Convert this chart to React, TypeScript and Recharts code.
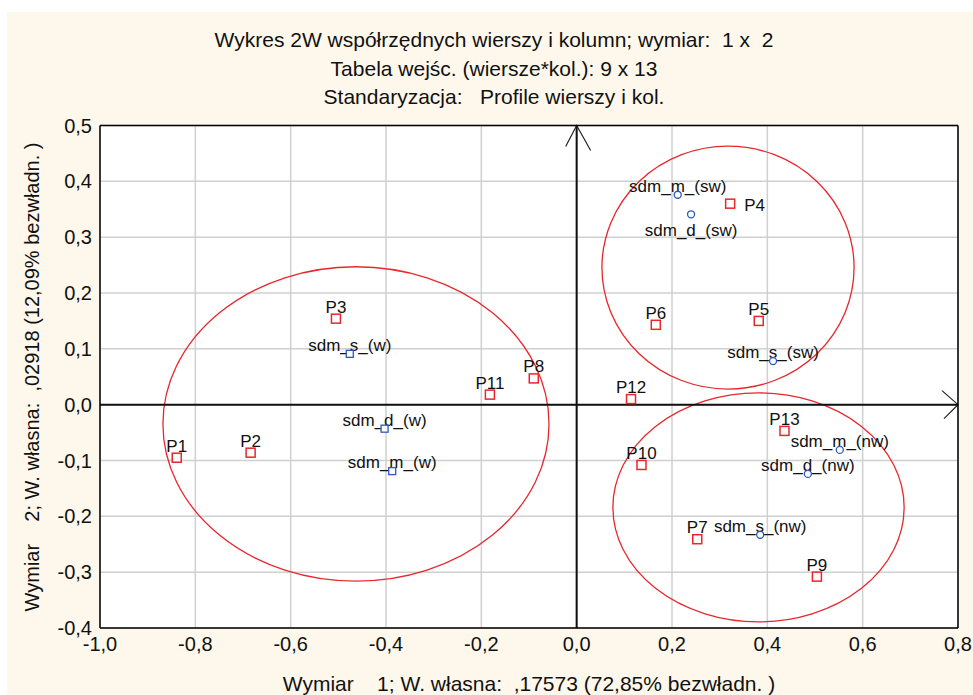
import { ScatterChart, Scatter, XAxis, YAxis, CartesianGrid, ReferenceLine, ReferenceArea } from "recharts";

// row points (P1..P13): dimension 1 and dimension 2 coordinates
const rowNames = ["P1", "P2", "P3", "P4", "P5", "P6", "P7", "P8", "P9", "P10", "P11", "P12", "P13"];
const rowDim1 = [-0.839, -0.684, -0.505, 0.322, 0.382, 0.166, 0.253, -0.09, 0.504, 0.136, -0.182, 0.114, 0.436];
const rowDim2 = [-0.095, -0.086, 0.154, 0.36, 0.15, 0.143, -0.241, 0.047, -0.308, -0.108, 0.018, 0.01, -0.047];

// column points
const colNames = [
  "sdm_s_(w)", "sdm_d_(w)", "sdm_m_(w)",
  "sdm_m_(sw)", "sdm_d_(sw)", "sdm_s_(sw)",
  "sdm_m_(nw)", "sdm_d_(nw)", "sdm_s_(nw)",
];
const colDim1 = [-0.476, -0.403, -0.387, 0.212, 0.24, 0.412, 0.552, 0.485, 0.385];
const colDim2 = [0.091, -0.043, -0.119, 0.376, 0.341, 0.078, -0.081, -0.124, -0.233];

// group ellipses, bounding boxes in data units
const groupDim1Min = [-0.868, 0.053, 0.076];
const groupDim1Max = [-0.058, 0.582, 0.687];
const groupDim2Min = [-0.316, 0.028, -0.389];
const groupDim2Max = [0.247, 0.463, 0.021];

const xTicks = [-1, -0.8, -0.6, -0.4, -0.2, 0, 0.2, 0.4, 0.6, 0.8];
const yTicks = [-0.4, -0.3, -0.2, -0.1, 0, 0.1, 0.2, 0.3, 0.4, 0.5];
const xMinorTicks = [-0.9, -0.7, -0.5, -0.3, -0.1, 0.1, 0.3, 0.5, 0.7];
const yMinorTicks = [
  -0.375, -0.35, -0.325, -0.275, -0.25, -0.225, -0.175, -0.15, -0.125,
  -0.075, -0.05, -0.025, 0.025, 0.05, 0.075, 0.125, 0.15, 0.175,
  0.225, 0.25, 0.275, 0.325, 0.35, 0.375, 0.425, 0.45, 0.475,
];

const titleLines = [
  "Wykres 2W współrzędnych wierszy i kolumn; wymiar:  1 x  2",
  "Tabela wejśc. (wiersze*kol.): 9 x 13",
  "Standaryzacja:   Profile wierszy i kol.",
];
const xLabel = "Wymiar    1; W. własna:  ,17573 (72,85% bezwładn. )";
const yLabel = "Wymiar    2; W. własna:  ,02918 (12,09% bezwładn. )";

// labels that sit beside or under their point instead of above it
const labelSide: Record<string, "right" | "below"> = {
  P4: "right",
  "sdm_d_(sw)": "below",
};

const rows = rowNames.map((name, i) => ({ name, x: rowDim1[i], y: rowDim2[i] }));
const cols = colNames.map((name, i) => ({ name, x: colDim1[i], y: colDim2[i] }));

const FONT = '"Liberation Sans", Arial, sans-serif';
const RED = "#e8262c";
const BLUE = "#2a58c0";
const DOMAIN_X: [number, number] = [-1, 0.8];
const DOMAIN_Y: [number, number] = [-0.4, 0.5];

const fmt = (v: number) => v.toFixed(1).replace(".", ",");

const PointLabel = ({ cx, cy, name, above }: { cx: number; cy: number; name: string; above: number }) => {
  const side = labelSide[name];
  let x = cx;
  let y = cy - above;
  let anchor: "middle" | "start" = "middle";
  if (side === "right") {
    x = cx + 14;
    y = cy + 7;
    anchor = "start";
  } else if (side === "below") {
    y = cy + 22;
  }
  return (
    <text x={x} y={y} textAnchor={anchor} fontSize={17} fontFamily={FONT} fill="#111">
      {name}
    </text>
  );
};

const RowMarker = (p: any) => (
  <g>
    <rect x={p.cx - 4.5} y={p.cy - 4.5} width={9} height={9} fill="#fff" stroke={RED} strokeWidth={1.5} />
    <PointLabel cx={p.cx} cy={p.cy} name={p.payload.name} above={6} />
  </g>
);

const ColMarker = (p: any) => {
  const square = p.payload.name.endsWith("(w)");
  return (
    <g>
      <PointLabel cx={p.cx} cy={p.cy} name={p.payload.name} above={3} />
      {square ? (
        <rect x={p.cx - 3.5} y={p.cy - 3.5} width={7} height={7} fill="#fff" stroke={BLUE} strokeWidth={1.3} />
      ) : (
        <circle cx={p.cx} cy={p.cy} r={3.5} fill="#fff" stroke={BLUE} strokeWidth={1.3} />
      )}
    </g>
  );
};

const EllipseShape = (p: any) => {
  const w = Math.abs(p.width);
  const h = Math.abs(p.height);
  return (
    <ellipse cx={p.x + w / 2} cy={p.y + h / 2} rx={w / 2} ry={h / 2} fill="none" stroke={RED} strokeWidth={1.3} />
  );
};

const VerticalArrow = (p: any) => {
  const x = p.x1;
  const top = Math.min(p.y1, p.y2);
  const bottom = Math.max(p.y1, p.y2);
  return (
    <g>
      <line x1={x} y1={top} x2={x} y2={bottom} stroke="#111" strokeWidth={2} />
      <polyline points={`${x - 11},${top + 21} ${x},${top} ${x + 14},${top + 25}`} fill="none" stroke="#222" strokeWidth={1.2} />
    </g>
  );
};

const HorizontalArrow = (p: any) => {
  const y = p.y1;
  const left = Math.min(p.x1, p.x2);
  const right = Math.max(p.x1, p.x2);
  return (
    <g>
      <line x1={left} y1={y} x2={right} y2={y} stroke="#111" strokeWidth={2} />
      <polyline points={`${right - 16},${y - 14} ${right},${y} ${right - 14},${y + 14}`} fill="none" stroke="#222" strokeWidth={1.2} />
    </g>
  );
};

const tickStyle = { fill: "#111", fontSize: 20, fontFamily: FONT };

export default function App() {
  return (
    <div style={{ position: "absolute", left: 0, top: 0, width: 973, height: 695, background: "#fff", overflow: "hidden" }}>
      <div style={{ position: "absolute", left: 7, top: 12, right: 0, bottom: 0, background: "#fdf8eb" }} />
      <ScatterChart
        width={973}
        height={695}
        margin={{ top: 125.5, right: 15, bottom: 37, left: 40 }}
        style={{ position: "absolute", left: 0, top: 0 }}
      >
        <CartesianGrid fill="#fff" stroke="#d0d0d0" strokeWidth={1.5} />
        <XAxis
          type="number"
          dataKey="x"
          domain={DOMAIN_X}
          ticks={xTicks}
          interval={0}
          tickFormatter={fmt}
          tick={tickStyle}
          tickLine={false}
          tickSize={0}
          tickMargin={9}
          height={30}
          axisLine={{ stroke: "#000", strokeWidth: 1.5 }}
        />
        <YAxis
          type="number"
          dataKey="y"
          domain={DOMAIN_Y}
          ticks={yTicks}
          interval={0}
          tickFormatter={fmt}
          tick={tickStyle}
          tickLine={false}
          tickSize={0}
          tickMargin={8}
          width={60}
          axisLine={{ stroke: "#000", strokeWidth: 1.5 }}
        />
        <XAxis
          xAxisId="minorBottom"
          type="number"
          domain={DOMAIN_X}
          ticks={xMinorTicks}
          interval={0}
          orientation="bottom"
          mirror
          tick={false}
          tickSize={4}
          tickLine={{ stroke: "#000" }}
          axisLine={false}
        />
        <XAxis
          xAxisId="minorTop"
          type="number"
          domain={DOMAIN_X}
          ticks={xMinorTicks}
          interval={0}
          orientation="top"
          mirror
          tick={false}
          tickSize={4}
          tickLine={{ stroke: "#000" }}
          axisLine={{ stroke: "#000", strokeWidth: 1.5 }}
        />
        <YAxis
          yAxisId="minorLeft"
          type="number"
          domain={DOMAIN_Y}
          ticks={yMinorTicks}
          interval={0}
          orientation="left"
          mirror
          tick={false}
          tickSize={4}
          tickLine={{ stroke: "#000" }}
          axisLine={false}
        />
        <YAxis
          yAxisId="minorRight"
          type="number"
          domain={DOMAIN_Y}
          ticks={yMinorTicks}
          interval={0}
          orientation="right"
          mirror
          tick={false}
          tickSize={4}
          tickLine={{ stroke: "#000" }}
          axisLine={{ stroke: "#000", strokeWidth: 1.5 }}
        />
        {groupDim1Min.map((_, i) => (
          <ReferenceArea
            key={`grp-${i}`}
            x1={groupDim1Min[i]}
            x2={groupDim1Max[i]}
            y1={groupDim2Min[i]}
            y2={groupDim2Max[i]}
            shape={EllipseShape}
          />
        ))}
        <ReferenceLine x={0} shape={VerticalArrow} />
        <ReferenceLine y={0} shape={HorizontalArrow} />
        <Scatter data={rows} shape={RowMarker} isAnimationActive={false} />
        <Scatter data={cols} shape={ColMarker} isAnimationActive={false} />
      </ScatterChart>
      <svg width={973} height={695} style={{ position: "absolute", left: 0, top: 0, pointerEvents: "none" }}>
        {titleLines.map((t, i) => (
          <text
            key={i}
            x={494}
            y={47 + i * 28.5}
            textAnchor="middle"
            fontSize={21}
            fontFamily={FONT}
            fill="#111"
            style={{ whiteSpace: "pre" }}
          >
            {t}
          </text>
        ))}
        <text x={529} y={691} textAnchor="middle" fontSize={21} fontFamily={FONT} fill="#111" style={{ whiteSpace: "pre" }}>
          {xLabel}
        </text>
        <text
          transform="translate(39, 377) rotate(-90)"
          textAnchor="middle"
          fontSize={20}
          fontFamily={FONT}
          fill="#111"
          style={{ whiteSpace: "pre" }}
        >
          {yLabel}
        </text>
      </svg>
    </div>
  );
}
